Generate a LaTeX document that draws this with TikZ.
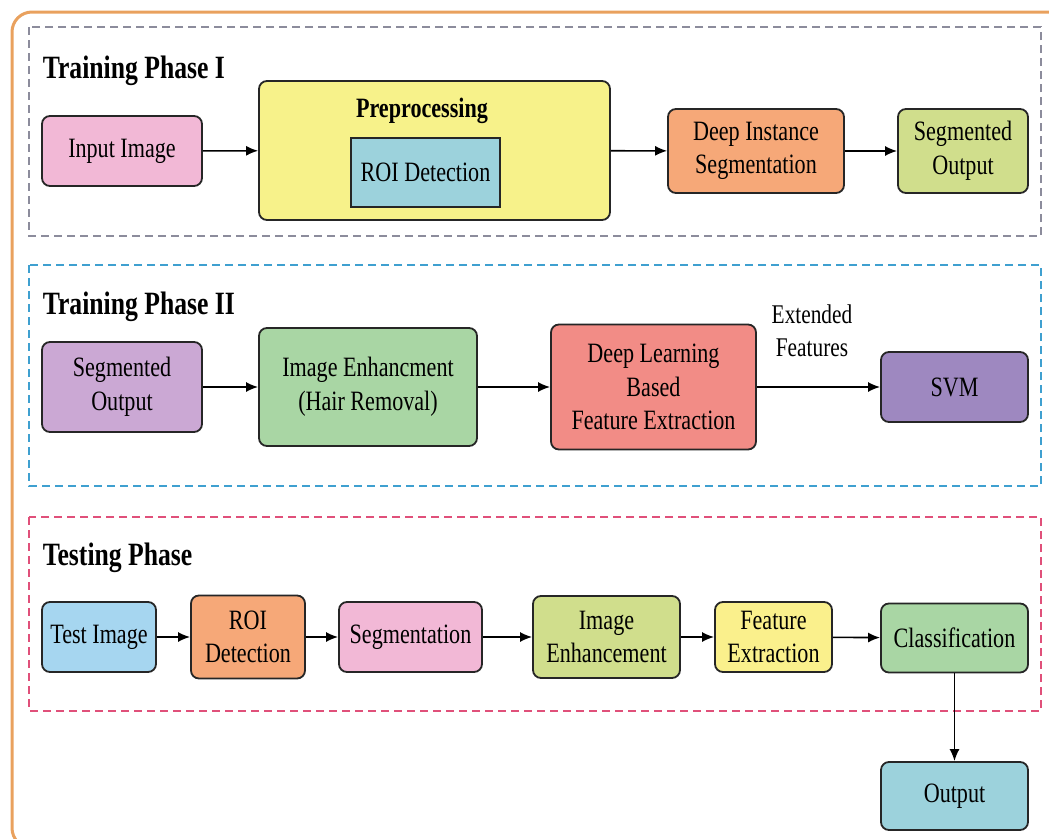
\documentclass[tikz,border=0pt]{standalone}
\usepackage{fontspec}
\setmainfont[FakeStretch=0.79]{Liberation Serif}
\usetikzlibrary{arrows.meta,positioning}

\definecolor{frameorange}{HTML}{E9A15E}
\definecolor{dashgray}{HTML}{8C8C9C}
\definecolor{dashblue}{HTML}{3FA0D0}
\definecolor{dashred}{HTML}{E0507A}
\definecolor{pinkbox}{HTML}{F2B8D6}
\definecolor{prepyellow}{HTML}{F7F28A}
\definecolor{featyellow}{HTML}{FAF08C}
\definecolor{roiblue}{HTML}{9CD2DC}
\definecolor{orangebox}{HTML}{F6A878}
\definecolor{olivebox}{HTML}{D0DE8C}
\definecolor{lilacbox}{HTML}{CBA8D4}
\definecolor{greenbox}{HTML}{A9D6A4}
\definecolor{salmonbox}{HTML}{F28C86}
\definecolor{svmpurple}{HTML}{9E88C0}
\definecolor{testblue}{HTML}{A6D6F0}

\newcommand{\boxfont}{\fontsize{28}{33.5}\selectfont}
\newcommand{\phasefont}{\fontsize{32.5}{36}\selectfont\bfseries}

\begin{document}
\begin{tikzpicture}[x=1pt, y=-1pt, ->, >={Latex[length=12pt,width=10pt]},
                line width=1.6pt,
                main node/.style={draw=black!85, line width=1.8pt, rounded corners=8pt,
                  align=center, inner sep=0pt, font=\boxfont},
                phase box/.style={-, line width=1.5pt, dash pattern=on 8pt off 5pt},
                phase title/.style={anchor=base west, inner sep=0pt, font=\phasefont}]

  \useasboundingbox (0,0) rectangle (1049,838);
  \clip (0,0) rectangle (1049,838);

  % outer frame and phase boxes
  \draw[-, frameorange, line width=3pt, rounded corners=20pt] (12,12) rectangle (1075,848);
  \draw[phase box, dashgray] (29,27) rectangle (1041,236);
  \draw[phase box, dashblue] (29,265) rectangle (1041,486);
  \draw[phase box, dashred] (29,517) rectangle (1041,711);

  % training phase I
  \node[phase title] (t1) at (42,78) {Training Phase I};
  \node[main node, fill=pinkbox, minimum width=160pt, minimum height=70pt] (inimg) at (122,151) {Input Image};
  \node[main node, fill=prepyellow, minimum width=351pt, minimum height=139pt] (prep) at (434.5,150.5) {};
  \node[anchor=base, inner sep=0pt, font=\boxfont\bfseries] (preptitle) at (422,117) {Preprocessing};
  \node[draw=black!85, line width=1.8pt, fill=roiblue, minimum width=149pt, minimum height=69pt,
        inner sep=0pt, font=\boxfont] (roi) at (425.5,172.5) {ROI Detection};
  \node[main node, fill=orangebox, minimum width=176pt, minimum height=84pt] (dis) at (756,151) {Deep Instance\\Segmentation};
  \node[main node, fill=olivebox, minimum width=130pt, minimum height=84pt] (segout) at (963,151) {Segmented\\Output};

  \path
    (inimg) edge (prep)
    (prep) edge (dis)
    (dis) edge (segout);

  % training phase II
  \node[phase title] (t2) at (42,314) {Training Phase II};
  \node[main node, fill=lilacbox, minimum width=160pt, minimum height=90pt] (segin) at (122,387) {Segmented\\Output};
  \node[main node, fill=greenbox, minimum width=218pt, minimum height=118pt] (hair) at (368,387) {Image Enhancment\\(Hair Removal)};
  \node[main node, fill=salmonbox, minimum width=205pt, minimum height=125pt] (dlfe) at (653.5,387) {Deep Learning\\Based\\Feature Extraction};
  \node[main node, fill=svmpurple, minimum width=147pt, minimum height=70pt] (svm) at (954.5,387) {SVM};
  \node[align=center, inner sep=0pt, font=\fontsize{27}{33}\selectfont] (extf) at (812,331) {Extended\\Features};

  \path
    (segin) edge (hair)
    (hair) edge (dlfe)
    (dlfe) edge (svm);

  % testing phase
  \node[phase title] (t3) at (42,565) {Testing Phase};
  \node[main node, fill=testblue, minimum width=114pt, minimum height=70pt] (test) at (99,637) {Test Image};
  \node[main node, fill=orangebox, minimum width=114pt, minimum height=83pt] (roitest) at (248,637) {ROI\\Detection};
  \node[main node, fill=pinkbox, minimum width=143pt, minimum height=70pt] (seg) at (410.5,637) {Segmentation};
  \node[main node, fill=olivebox, minimum width=147pt, minimum height=82pt] (enh) at (606.5,637) {Image\\Enhancement};
  \node[main node, fill=featyellow, minimum width=117pt, minimum height=70pt] (feat) at (773.5,637) {Feature\\Extraction};
  \node[main node, fill=greenbox, minimum width=147pt, minimum height=69pt] (cls) at (954.5,638) {Classification};
  \node[main node, fill=roiblue, minimum width=147pt, minimum height=68pt] (out) at (954.5,796) {Output};

  \path
    (test) edge (roitest)
    (roitest) edge (seg)
    (seg) edge (enh)
    (enh) edge (feat)
    (feat) edge (cls)
    (cls) edge (out);
\end{tikzpicture}
\end{document}
